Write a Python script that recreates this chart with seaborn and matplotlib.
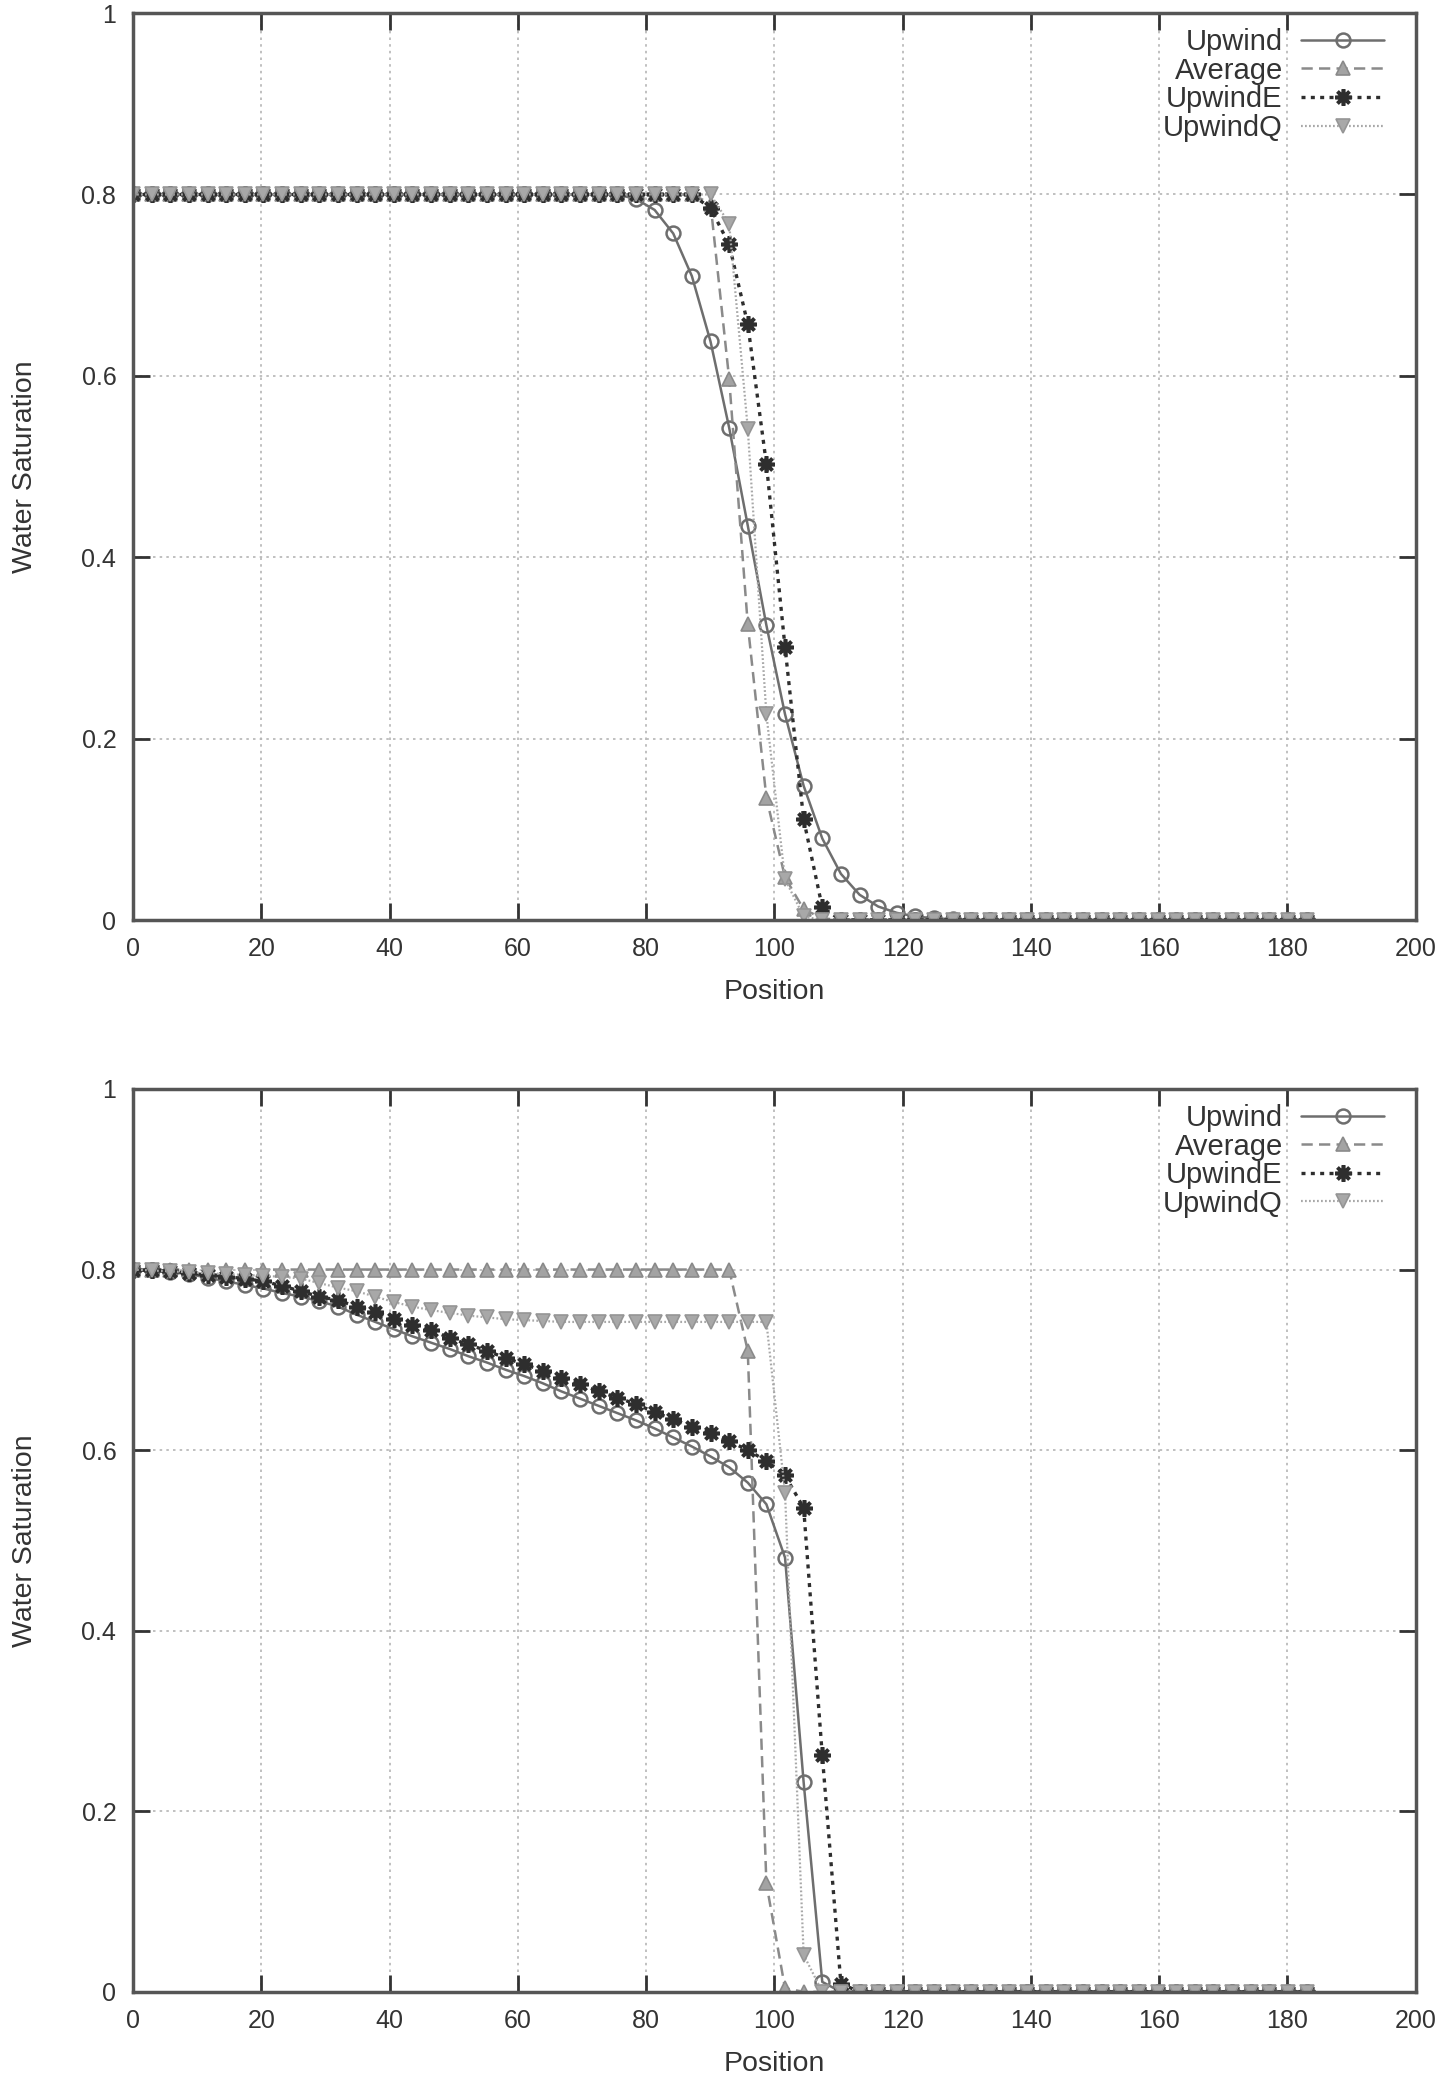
import numpy as np
import pandas as pd
import matplotlib
matplotlib.use("Agg")
import matplotlib.pyplot as plt
import seaborn as sns


# cell centres along the column (64 points, 0 .. 183)
position = np.linspace(0, 183, 64)

# top panel
top_upwind = [0.8] * 27 + [0.795, 0.783, 0.757, 0.710, 0.638, 0.543, 0.435, 0.325, 0.227,
                           0.148, 0.090, 0.051, 0.028, 0.015, 0.008, 0.004, 0.002, 0.001] + [0.0] * 19
top_average = [0.8] * 31 + [0.790, 0.597, 0.326, 0.135, 0.047, 0.012, 0.002] + [0.0] * 26
top_upwind_e = [0.8] * 31 + [0.785, 0.745, 0.657, 0.503, 0.301, 0.111, 0.014] + [0.0] * 26
top_upwind_q = [0.8] * 32 + [0.768, 0.542, 0.227, 0.045, 0.004] + [0.0] * 27

# bottom panel
bot_upwind = [0.800, 0.799, 0.797, 0.795, 0.791, 0.787, 0.783, 0.779, 0.774, 0.770,
              0.765, 0.759, 0.750, 0.742, 0.734, 0.726, 0.719, 0.712, 0.704, 0.697,
              0.689, 0.682, 0.674, 0.665, 0.657, 0.649, 0.641, 0.633, 0.624, 0.614,
              0.604, 0.593, 0.581, 0.564, 0.540, 0.481, 0.232, 0.011] + [0.0] * 26
bot_average = [0.8] * 33 + [0.710, 0.120, 0.004] + [0.0] * 28
bot_upwind_e = [0.800, 0.799, 0.798, 0.796, 0.794, 0.792, 0.790, 0.787, 0.782, 0.776,
                0.770, 0.766, 0.759, 0.753, 0.745, 0.739, 0.733, 0.724, 0.717, 0.710,
                0.702, 0.695, 0.688, 0.680, 0.673, 0.665, 0.658, 0.651, 0.642, 0.634,
                0.626, 0.619, 0.610, 0.600, 0.588, 0.572, 0.536, 0.262, 0.009] + [0.0] * 25
bot_upwind_q = [0.800, 0.799, 0.798, 0.797, 0.796, 0.795, 0.794, 0.793, 0.792, 0.790,
                0.785, 0.780, 0.776, 0.770, 0.764, 0.759, 0.755, 0.752, 0.749, 0.747,
                0.745, 0.744, 0.743, 0.742, 0.742, 0.742, 0.742, 0.742, 0.742, 0.742,
                0.742, 0.742, 0.742, 0.742, 0.742, 0.553, 0.041] + [0.0] * 27

series_names = ["Upwind", "Average", "UpwindE", "UpwindQ"]
x_ticks = [0, 20, 40, 60, 80, 100, 120, 140, 160, 180, 200]
y_ticks = [0, 0.2, 0.4, 0.6, 0.8, 1]
y_tick_labels = ["0", "0.2", "0.4", "0.6", "0.8", "1"]

styles = {
    "Upwind": dict(color="#6e6e6e", linestyle="-", linewidth=1.8, marker="o",
                   markersize=10, markerfacecolor="none", markeredgecolor="#6e6e6e",
                   markeredgewidth=1.8),
    "Average": dict(color="#8a8a8a", linestyle=(0, (4.5, 2.5)), linewidth=1.8, marker="^",
                    markersize=10, markerfacecolor="#a3a3a3", markeredgecolor="#8a8a8a",
                    markeredgewidth=1.2),
    "UpwindE": dict(color="#2e2e2e", linestyle=(0, (1.2, 1.6)), linewidth=2.4, marker=(8, 2, 0),
                    markersize=12, markeredgecolor="#2e2e2e", markeredgewidth=2.6),
    "UpwindQ": dict(color="#a8a8a8", linestyle=(0, (0.8, 1.0)), linewidth=1.6, marker="v",
                    markersize=10, markerfacecolor="#a8a8a8", markeredgecolor="#959595",
                    markeredgewidth=1.2),
}

sns.set_theme(style="ticks")
plt.rcParams["font.family"] = ["Liberation Sans", "DejaVu Sans"]
text_color = "#333333"


def draw_panel(ax, values):
    df = pd.DataFrame({"position": position})
    for name, vals in zip(series_names, values):
        df[name] = vals
    df_long = df.melt(id_vars="position", var_name="scheme", value_name="saturation")

    for name in series_names:
        sub = df_long[df_long["scheme"] == name]
        sns.lineplot(data=sub, x="position", y="saturation", ax=ax, label=name,
                     estimator=None, sort=False, **styles[name])

    ax.set_xlim(0, 200)
    ax.set_ylim(0, 1)
    ax.set_xticks(x_ticks)
    ax.set_yticks(y_ticks)
    ax.set_yticklabels(y_tick_labels)
    ax.grid(True, color="#b5b5b5", linestyle=(0, (1.5, 2.5)), linewidth=1.2)
    ax.tick_params(direction="in", length=12, width=2, top=True, right=True,
                   labelsize=18, colors="#333333", labelcolor=text_color, pad=12)
    for spine in ax.spines.values():
        spine.set_visible(True)
        spine.set_color("#555555")
        spine.set_linewidth(2.5)
    ax.set_xlabel("Position", fontsize=20.5, color=text_color, labelpad=13)
    ax.set_ylabel("Water Saturation", fontsize=20.5, color=text_color, labelpad=31)

    # text first, sample after it: matplotlib right-aligns the rows then
    ax.legend(loc="upper right", bbox_to_anchor=(0.996, 1.0125), frameon=False,
              markerfirst=False, fontsize=21, handlelength=2.85, handletextpad=0.63,
              labelspacing=0.02, labelcolor=text_color)


fig = plt.figure(figsize=(14.46, 20.77), dpi=100)
ax_top = fig.add_axes([0.092, 0.557, 0.887, 0.4367])
ax_bot = fig.add_axes([0.092, 0.041, 0.887, 0.4347])

draw_panel(ax_top, [top_upwind, top_average, top_upwind_e, top_upwind_q])
draw_panel(ax_bot, [bot_upwind, bot_average, bot_upwind_e, bot_upwind_q])

fig.savefig("out.png", dpi=100)
